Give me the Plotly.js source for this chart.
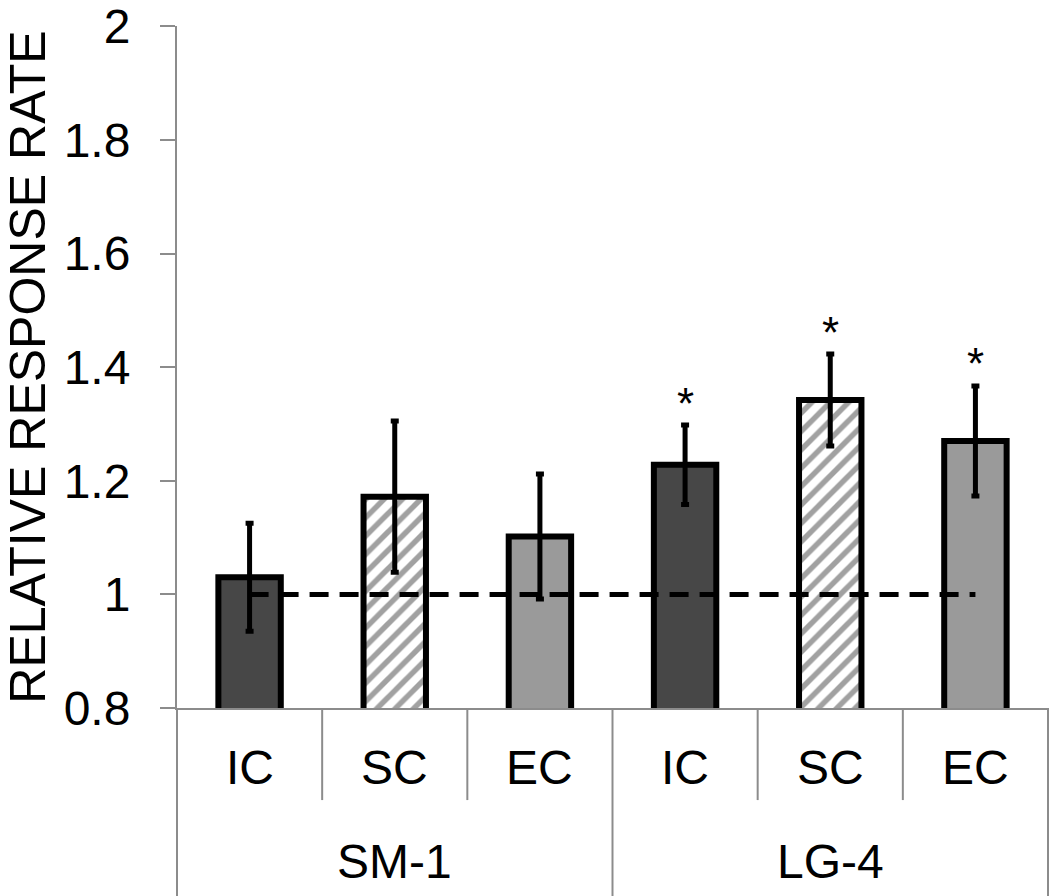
<!DOCTYPE html>
<html>
<head>
<meta charset="utf-8">
<script src="https://cdn.plot.ly/plotly-3.0.1.min.js"></script>
<style>html,body{margin:0;padding:0;background:#fff;}#chart{width:1050px;height:896px;}</style>
</head>
<body>
<div id="chart"></div>
<script>
// ---- data ----
var groups = ["SM-1", "SM-1", "SM-1", "LG-4", "LG-4", "LG-4"];
var conditions = ["IC", "SC", "EC", "IC", "SC", "EC"];
var means = [1.03, 1.172, 1.102, 1.228, 1.342, 1.270];
var errors = [0.095, 0.133, 0.11, 0.07, 0.081, 0.097];
var significant = [false, false, false, true, true, true];
var referenceLevel = [1, 1, 1, 1, 1, 1];
var yTicks = [0.8, 1, 1.2, 1.4, 1.6, 1.8, 2];

// ---- styles ----
var fillFor = {IC: "#474747", SC: "#ffffff", EC: "#9a9a9a"};
var patternFor = {IC: "", SC: "/", EC: ""};
var FONT = "Liberation Sans, Arial, sans-serif";

var barTrace = {
  type: "bar",
  x: [groups, conditions],
  y: means,
  width: 0.43,
  marker: {
    color: conditions.map(function (c) { return fillFor[c]; }),
    line: {color: "#000", width: 6},
    pattern: {
      shape: conditions.map(function (c) { return patternFor[c]; }),
      fgcolor: "#000",
      bgcolor: "#fff",
      size: 13,
      solidity: 0.42,
      fillmode: "overlay"
    }
  },
  error_y: {type: "data", array: errors, visible: true, color: "#000", thickness: 5, width: 4},
  hoverinfo: "skip",
  showlegend: false
};

var lineTrace = {
  type: "scatter",
  mode: "lines",
  x: [groups, conditions],
  y: referenceLevel,
  line: {color: "#000", width: 5, dash: "19px,11px"},
  hoverinfo: "skip",
  showlegend: false
};

var annotations = [];
// asterisks above significant bars
for (var i = 0; i < means.length; i++) {
  if (significant[i]) {
    annotations.push({
      xref: "x", yref: "y",
      x: i, y: means[i] + errors[i],
      text: "*", showarrow: false,
      yanchor: "middle", yshift: 22,
      font: {family: FONT, size: 44, color: "#000"}
    });
  }
}

var n = conditions.length;
// condition labels and group labels below the axis
for (var j = 0; j < n; j++) {
  annotations.push({
    xref: "paper", yref: "paper",
    x: (j + 0.5) / n, y: -0.0875,
    text: conditions[j], showarrow: false,
    xanchor: "center", yanchor: "middle",
    font: {family: FONT, size: 48, color: "#000"}
  });
}
var start = 0;
for (var g = 1; g <= n; g++) {
  if (g === n || groups[g] !== groups[start]) {
    annotations.push({
      xref: "paper", yref: "paper",
      x: (start + g) / 2 / n, y: -0.225,
      text: groups[start], showarrow: false,
      xanchor: "center", yanchor: "middle",
      font: {family: FONT, size: 48, color: "#000"}
    });
    start = g;
  }
}

// divider lines below the x axis
var shapes = [];
for (var k = 0; k <= n; k++) {
  var isGroupEdge = (k === 0 || k === n || groups[k] !== groups[k - 1]);
  shapes.push({
    type: "line", xref: "paper", yref: "paper",
    x0: k / n, x1: k / n, y0: 0, y1: isGroupEdge ? -0.3 : -0.135,
    line: {color: "#8c8c8c", width: 2}
  });
}

var layout = {
  width: 1050, height: 896,
  margin: {l: 177, r: 2, t: 26, b: 188},
  paper_bgcolor: "#fff", plot_bgcolor: "#fff",
  font: {family: FONT, color: "#000", size: 48},
  showlegend: false,
  xaxis: {
    type: "multicategory",
    showline: true, linecolor: "#8c8c8c", linewidth: 2,
    ticks: "", showgrid: false, zeroline: false,
    showdividers: false, showticklabels: false,
    range: [-0.5, n - 0.5]
  },
  yaxis: {
    range: [0.8, 2.0005],
    tickvals: yTicks,
    ticklabeloverflow: "allow",
    showline: true, linecolor: "#8c8c8c", linewidth: 2,
    ticks: "outside", ticklen: 15, tickwidth: 2, tickcolor: "#8c8c8c",
    ticklabelstandoff: 20,
    showgrid: false, zeroline: false,
    tickfont: {family: FONT, size: 48, color: "#000"},
    title: {text: "RELATIVE RESPONSE RATE", font: {family: FONT, size: 50, color: "#000"}, standoff: 19}
  },
  annotations: annotations,
  shapes: shapes
};

Plotly.newPlot("chart", [barTrace, lineTrace], layout, {staticPlot: true, displayModeBar: false});
</script>
</body>
</html>
